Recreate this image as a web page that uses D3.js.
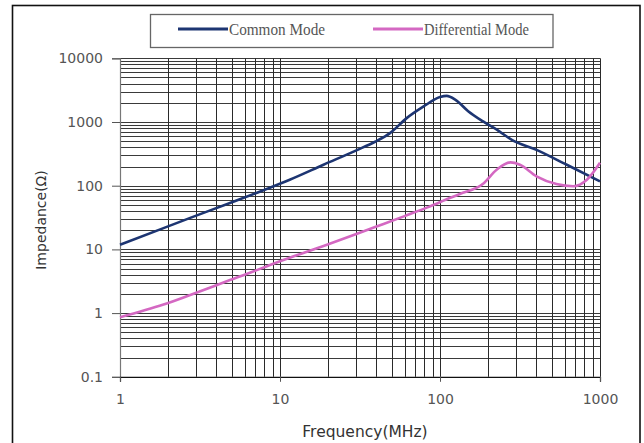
<!DOCTYPE html>
<html>
<head>
<meta charset="utf-8">
<script src="https://cdn.jsdelivr.net/npm/d3@7"></script>
<style>
html,body{margin:0;padding:0;background:#fff;}
svg{display:block;}
</style>
</head>
<body>
<svg id="chart" width="644" height="443"></svg>
<script>
// ---- data ----
const seriesNames = ["Common Mode", "Differential Mode"];
const commonFreq = [1, 1.87, 2.8, 4.87, 8.66, 11.5, 18.7, 30, 39.3, 48.7, 61.9, 78.6, 100, 110, 125, 150, 186, 230, 281, 401, 620, 1000];
const commonImp  = [11.8, 21.6, 31.8, 53.5, 93, 124, 213, 359, 490, 670, 1150, 1740, 2460, 2570, 2230, 1480, 1020, 740, 525, 365, 213, 117];
const diffFreq = [1, 1.87, 2.8, 4.87, 6.8, 8.66, 11.5, 18.7, 30, 39.3, 60, 86, 115, 133, 186, 226, 275, 316, 401, 534, 680, 828, 1000];
const diffImp  = [0.86, 1.36, 1.96, 3.3, 4.5, 5.7, 7.4, 11.3, 17.4, 22.4, 33.3, 47, 64, 74, 107, 178, 232, 213, 140, 106, 98, 124, 229];
const xTickLabels = ["1", "10", "100", "1000"];
const yTickLabels = ["0.1", "1", "10", "100", "1000", "10000"];
const xTicks = [1, 10, 100, 1000];
const yTicks = [0.1, 1, 10, 100, 1000, 10000];

const svg = d3.select("#chart");
const L = 120, R = 600, T = 58.3, B = 376.8;

const x = d3.scaleLog().domain([1, 1000]).range([L, R]);
const y = d3.scaleLog().domain([0.1, 10000]).range([B, T]);

// outer frame
svg.append("rect").attr("x", 12.5).attr("y", 5.5).attr("width", 627.5).attr("height", 450)
  .attr("fill", "none").attr("stroke", "#111").attr("stroke-width", 1.6);

// grid values (1..9 per decade)
const xGrid = [];
for (let d = 1; d <= 100; d *= 10) for (let k = 1; k <= 9; k++) xGrid.push(k * d);
xGrid.push(1000);
const yGrid = [];
for (let d = 0.1; d <= 1000.5; d *= 10) for (let k = 1; k <= 9; k++) yGrid.push(+(k * d).toPrecision(3));
yGrid.push(10000);

const g = svg.append("g");
g.selectAll("line.hg").data(yGrid).enter().append("line")
  .attr("x1", L).attr("x2", R)
  .attr("y1", d => Math.round(y(d)) + 0.5).attr("y2", d => Math.round(y(d)) + 0.5)
  .attr("stroke", "#3a3a3a").attr("stroke-width", 1);
g.selectAll("line.vg").data(xGrid).enter().append("line")
  .attr("y1", T).attr("y2", B)
  .attr("x1", d => Math.round(x(d)) + 0.5).attr("x2", d => Math.round(x(d)) + 0.5)
  .attr("stroke", "#2a2a2a").attr("stroke-width", 1);

// axes
const yAxis = d3.axisLeft(y).tickValues(yTicks).tickFormat((d, i) => yTickLabels[i]).tickSize(8).tickPadding(9);
const ya = svg.append("g").attr("transform", `translate(${L},0)`).call(yAxis);
ya.select(".domain").attr("stroke", "#777").attr("stroke-width", 1.2);
ya.selectAll(".tick line").attr("stroke", "#555");
ya.selectAll("text").attr("font-family", "DejaVu Sans, Verdana, sans-serif").attr("font-size", 14).attr("fill", "#555");

const xAxis = d3.axisBottom(x).tickValues(xTicks).tickFormat((d, i) => xTickLabels[i]).tickSize(5).tickPadding(12);
const xa = svg.append("g").attr("transform", `translate(0,${B})`).call(xAxis);
xa.select(".domain").attr("stroke", "#111").attr("stroke-width", 1.2);
xa.selectAll(".tick line").attr("stroke", "#555");
xa.selectAll("text").attr("font-family", "DejaVu Sans, Verdana, sans-serif").attr("font-size", 14).attr("fill", "#555");

// axis titles
svg.append("text").attr("x", 365).attr("y", 437).attr("text-anchor", "middle")
  .attr("font-family", "DejaVu Sans, Verdana, sans-serif").attr("font-size", 15.5).attr("fill", "#333")
  .text("Frequency(MHz)");
svg.append("text").attr("transform", "translate(46,220) rotate(-90)").attr("text-anchor", "middle")
  .attr("font-family", "DejaVu Sans, Verdana, sans-serif").attr("font-size", 14).attr("fill", "#333")
  .text("Impedance(Ω)");

// series
const colors = ["#1d3572", "#d468c2"];
const line = d3.line().x(d => x(d[0])).y(d => y(d[1])).curve(d3.curveMonotoneX);
const data = [d3.zip(commonFreq, commonImp), d3.zip(diffFreq, diffImp)];
svg.selectAll("path.series").data(data).enter().append("path")
  .attr("d", line).attr("fill", "none")
  .attr("stroke", (d, i) => colors[i]).attr("stroke-width", 2.6);

// legend
svg.append("rect").attr("x", 150.5).attr("y", 14.5).attr("width", 402.5).attr("height", 33)
  .attr("fill", "#fff").attr("stroke", "#666").attr("stroke-width", 1.3);
const legX = [178, 373];
seriesNames.forEach((name, i) => {
  svg.append("line").attr("x1", legX[i]).attr("x2", legX[i] + 50).attr("y1", 29).attr("y2", 29)
    .attr("stroke", colors[i]).attr("stroke-width", 3);
  svg.append("text").attr("x", legX[i] + 51).attr("y", 35)
    .attr("font-family", "Liberation Serif, Times New Roman, serif").attr("font-size", 16.5).attr("fill", "#555")
    .attr("textLength", i === 0 ? 96 : 105).attr("lengthAdjust", "spacingAndGlyphs")
    .text(name);
});
</script>
</body>
</html>
